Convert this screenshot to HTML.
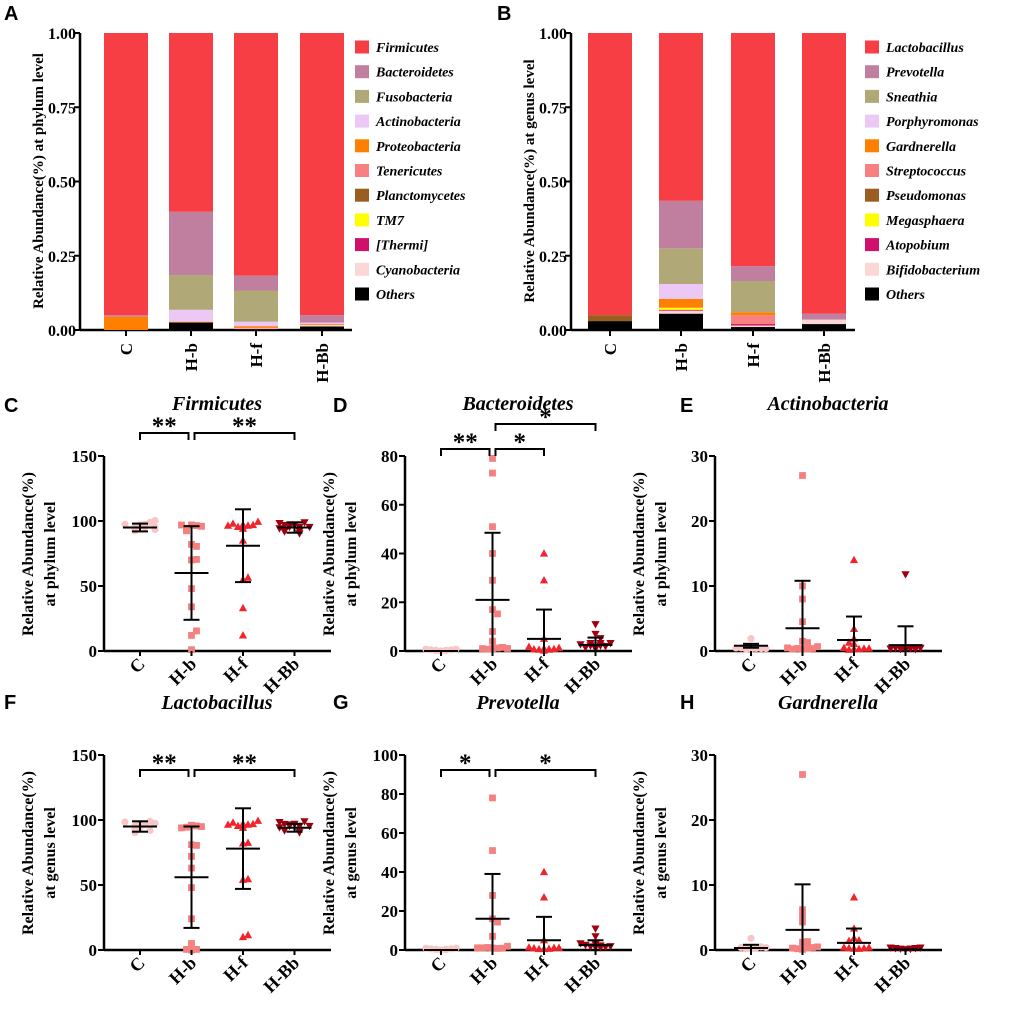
<!DOCTYPE html>
<html><head><meta charset="utf-8"><style>
html,body{margin:0;padding:0;background:#fff;}
svg{display:block;}
text{font-family:"Liberation Serif",serif;font-weight:bold;fill:#000;}
.lt{font-family:"Liberation Sans",sans-serif;font-size:20px;}
</style></head><body>
<svg id="fig" width="1020" height="1012" viewBox="0 0 1020 1012" xmlns="http://www.w3.org/2000/svg"></svg>
<script>
// ---------- data ----------
const groups = ["C","H-b","H-f","H-Bb"];
const phylumNames = ["Firmicutes","Bacteroidetes","Fusobacteria","Actinobacteria","Proteobacteria","Tenericutes","Planctomycetes","TM7","[Thermi]","Cyanobacteria","Others"];
const genusNames = ["Lactobacillus","Prevotella","Sneathia","Porphyromonas","Gardnerella","Streptococcus","Pseudomonas","Megasphaera","Atopobium","Bifidobacterium","Others"];
const legendColors = ["#f83e45","#c07f9f","#b0a877","#ebc9f4","#ff7f00","#f88080","#9a5f20","#ffff00","#d0106a","#fbd7d6","#000000"];
const phylumC   = [0.950,0.005,0,0,0.045,0,0,0,0,0,0];
const phylumHb  = [0.602,0.213,0.117,0.040,0.003,0,0,0,0,0,0.025];
const phylumHf  = [0.817,0.050,0.105,0.015,0.005,0.003,0,0,0,0.002,0.003];
const phylumHBb = [0.950,0.025,0,0.005,0.003,0,0,0,0,0.005,0.012];
const genusC   = [0.950,0,0,0,0,0,0.020,0,0,0,0.030];
const genusHb  = [0.565,0.160,0.120,0.050,0.030,0,0,0.007,0.003,0.010,0.055];
const genusHf  = [0.785,0.050,0.105,0,0.010,0.030,0,0,0.005,0.005,0.010];
const genusHBb = [0.945,0.020,0,0,0,0,0,0,0,0.015,0.020];

const firmicutes = {C:[96,97,95,93,92,98,94,96,95,97,99,92],Hb:[97,96,94,95,92,82,80,70,70,48,34,12,15,1,96],Hf:[97,96,95,96,97,98,95,96,94,85,55,56,33,12],HBb:[97,95,96,92,90,98,96,94,97,93,91,95,96]};
const firmMean=[95,60,81,95], firmSD=[3,36,28,4];
const bacteroidetes = {C:[0,0,0,0,0,0,0,0,0,0],Hb:[79,73,51,40,29,17,15,8,4,1,1,0.5,1,0.5,0.3],Hf:[40,29,5,1,0.5,0.3,0.3,0.2,0.5,1,0.2,0.3],HBb:[11,7,5,3,2,2,1.5,1,2.5,2,1,3]};
const bactMean=[0,21,5,2.5], bactSD=[0,27.5,12,3];
const actinobacteria = {C:[1.9,0.3,0.3,0.2,0.2,0.3,0.1,0.2],Hb:[27,10,8,4.5,1.5,1.2,0.3,0.2,0.3,0.2,0.1,0.4,0.2],Hf:[14,3.4,1.9,1.1,1.2,0.3,0.2,0.1,0.2,0.3,0.1],HBb:[11.8,0.2,0.3,0.2,0.1,0.3,0.2,0.1,0.2]};
const actMean=[0.8,3.5,1.7,0.9], actSD=[0.3,7.3,3.6,2.9];
const lactobacillus = {C:[97,96,95,93,92,90,91,98,96,94,97],Hb:[96,95,94,94,93,81,80,72,63,48,24,5,0,0,0],Hf:[97,96,95,96,97,98,95,96,94,82,82,54,54,10,11],HBb:[97,95,96,92,90,98,96,94,97,93,91,95,96]};
const lactMean=[95,56,78,94], lactSD=[4,39,31,3];
const prevotella = {C:[0,0,0,0,0,0,0,0,0],Hb:[78,51,28,16,14,7,1,0.5,1,0.3,0.5,1,0.2],Hf:[40,27,5,0.5,0.3,0.2,0.5,0.3,0.2,0.4],HBb:[11,7,3,2,1.5,1,2,1,2.5,1.5,1]};
const prevMean=[0,16,5,2.5], prevSD=[0,23,12,2.5];
const gardnerella = {C:[1.8,0.2,0.2,0.1,0.3,0.2,0.1],Hb:[27,6.2,5.3,4.3,1.2,1.2,0.1,0.2,0.1,0.2,0.1,0.2],Hf:[8.1,3.3,1.8,1.4,1.3,0.2,0.1,0.2,0.1,0.2,0.1],HBb:[0.1,0.1,0.1,0.1,0.1,0.1,0.1,0.1,0.1]};
const gardMean=[0.3,3.1,1.1,0.1], gardSD=[0.5,7,2.2,0];
const yTicksPct150=[0,50,100,150], yTicks80=[0,20,40,60,80], yTicks30=[0,10,20,30], yTicks100=[0,20,40,60,80,100];
const yTicksFrac=[0,0.25,0.5,0.75,1.0];

// ---------- helpers ----------
const NS="http://www.w3.org/2000/svg";
const svg=document.getElementById('fig');
function el(tag,attrs,parent,txt){const e=document.createElementNS(NS,tag);for(const k in attrs)e.setAttribute(k,attrs[k]);if(txt!==undefined)e.textContent=txt;(parent||svg).appendChild(e);return e;}
function grp(name){const g=el('g',{});


return g;}

// ---------- stacked bar panels ----------
function stacked(opts){
  const g=grp(opts.name);
  const x0=opts.axisX, yb=330, yt=33;
  const ys=v=>yb-(yb-yt)*v;
  const ax=el('line',{x1:x0,y1:yt,x2:x0,y2:yb,stroke:'#000','stroke-width':2.5},g);
  
  
  yTicksFrac.forEach(t=>{
    el('line',{x1:x0-6,y1:ys(t),x2:x0,y2:ys(t),stroke:'#000','stroke-width':2},g);
    const tl=el('text',{x:x0-4,y:ys(t)+6,'text-anchor':'end','font-size':16},g,t.toFixed(2));
    
    
  });
  const xl=el('line',{x1:x0,y1:yb,x2:opts.axisEnd,y2:yb,stroke:'#000','stroke-width':2.5},g);
  
  
  const yt2=el('text',{x:0,y:0,'text-anchor':'middle','font-size':15,transform:`translate(${opts.titleX},181) rotate(-90)`},g,opts.yTitle);
  
  
  opts.data.forEach((vals,gi)=>{
    const cx=opts.barX[gi]; let cum=0;
    const order=[10,9,8,7,6,5,4,3,2,1,0];
    order.forEach(k=>{
      const v=vals[k]; if(v<=0) return;
      const r=el('rect',{x:cx-22,y:ys(cum+v),width:44,height:ys(cum)-ys(cum+v),fill:legendColors[k]},g);
      
      
      cum+=v;
    });
    el('line',{x1:cx,y1:yb,x2:cx,y2:yb+6,stroke:'#000','stroke-width':2},g);
    const lb=el('text',{x:0,y:0,'text-anchor':'end','font-size':17,transform:`translate(${cx+6},343) rotate(-90)`},g,groups[gi]);
    
    
  });
  opts.names.forEach((n,i)=>{
    const y=47+i*24.7;
    const r=el('rect',{x:opts.legX,y:y-6.5,width:14,height:13,fill:legendColors[i]},g);
    
    
    const t=el('text',{x:opts.legX+21,y:y+5,'font-size':14,'font-style':'italic'},g,n);
    
    
  });
}
stacked({name:'panel-a-phylum-bars',axisX:80,axisEnd:352,barX:[126,191,256,322],data:[phylumC,phylumHb,phylumHf,phylumHBb],names:phylumNames,legX:355,titleX:43,yTitle:'Relative Abundance(%) at phylum level'});
stacked({name:'panel-b-genus-bars',axisX:571,axisEnd:855,barX:[610,681,753,824],data:[genusC,genusHb,genusHf,genusHBb],names:genusNames,legX:865,titleX:534,yTitle:'Relative Abundance(%) at genus level'});

// ---------- scatter panels ----------
const markerColors=['#f9c6c8','#f58080','#f0252b','#a0000e'];
function marker(g,shape,x,y,c){
  let m;
  if(shape===0) m=el('circle',{cx:x,cy:y,r:3.6,fill:c},g);
  else if(shape===1) m=el('rect',{x:x-3.4,y:y-3.4,width:6.8,height:6.8,fill:c},g);
  else if(shape===2) m=el('polygon',{points:`${x},${y-4.3} ${x+4.1},${y+3.1} ${x-4.1},${y+3.1}`,fill:c},g);
  else m=el('polygon',{points:`${x},${y+4.3} ${x+4.1},${y-3.1} ${x-4.1},${y-3.1}`,fill:c},g);
  
  
}
function scatter(o){
  const g=grp(o.name);
  const ax=o.axisX, yb=o.base, top=o.base-195, max=o.ticks[o.ticks.length-1];
  const ys=v=>yb-(yb-top)*v/max;
  const a=el('line',{x1:ax,y1:top,x2:ax,y2:yb,stroke:'#000','stroke-width':2.5},g);
  
  
  const b=el('line',{x1:ax,y1:yb,x2:ax+227,y2:yb,stroke:'#000','stroke-width':2.5},g);
  
  
  o.ticks.forEach(t=>{
    el('line',{x1:ax-6,y1:ys(t),x2:ax,y2:ys(t),stroke:'#000','stroke-width':2},g);
    const tl=el('text',{x:ax-7,y:ys(t)+6,'text-anchor':'end','font-size':17},g,String(t));
    
    
  });
  const cy=yb-97;
  const t1=el('text',{x:0,y:0,'text-anchor':'middle','font-size':16,transform:`translate(${ax-71},${cy}) rotate(-90)`},g,'Relative Abundance(%)');
  
  
  const t2=el('text',{x:0,y:0,'text-anchor':'middle','font-size':16,transform:`translate(${ax-49},${cy}) rotate(-90)`},g,o.level);
  
  
  const tt=el('text',{x:ax+113,y:top-46,'text-anchor':'middle','font-size':20,'font-style':'italic'},g,o.title);
  
  
  const keys=['C','Hb','Hf','HBb'];
  keys.forEach((k,gi)=>{
    const gx=ax+36+gi*51.5;
    const vals=o.data[k]; const placed=[];
    vals.forEach(v=>{
      const y=ys(v); let n=0; placed.forEach(p=>{if(Math.abs(p-y)<5)n++;}); placed.push(y);
      n=n%7;
      const off=((n+1)>>1)*5*(n%2?1:-1);
      marker(g,gi,gx+off,y-Math.abs(off)*0.12,markerColors[gi]);
    });
    const m=o.mean[gi], s=o.sd[gi];
    const ln=(x1,y1,x2,y2)=>el('line',{x1,y1,x2,y2,stroke:'#000','stroke-width':2},g);
    ln(gx-17,ys(m),gx+17,ys(m));
    if(s>0){ln(gx,ys(Math.max(m-s,0)),gx,ys(m+s));ln(gx-8,ys(m+s),gx+8,ys(m+s));if(m-s>0)ln(gx-8,ys(m-s),gx+8,ys(m-s));}
    el('line',{x1:gx,y1:yb,x2:gx,y2:yb+5,stroke:'#000','stroke-width':2},g);
    const lb=el('text',{x:0,y:0,'text-anchor':'end','font-size':18,transform:`translate(${gx+6},${yb+14}) rotate(-45)`},g,groups[gi]);
    
    
  });
  (o.sig||[]).forEach(s=>{
    const x1=ax+36+s[0]*51.5+(s[0]===1?3:0), x2=ax+36+s[1]*51.5-(s[1]===1?3:0), y=s[2];
    el('path',{d:`M${x1},${y+7} V${y} H${x2} V${y+7}`,fill:'none',stroke:'#000','stroke-width':2},g);
    const st=el('text',{x:(x1+x2)/2,y:y+1,'text-anchor':'middle','font-size':25,'font-family':'Liberation Sans'},g,s[3]);
    
    
  });
}
scatter({name:'panel-c-firmicutes',axisX:104,base:651,ticks:yTicksPct150,title:'Firmicutes',level:'at phylum  level',data:firmicutes,mean:firmMean,sd:firmSD,sig:[[0,1,433,'**'],[1,3,433,'**']]});
scatter({name:'panel-d-bacteroidetes',axisX:405,base:651,ticks:yTicks80,title:'Bacteroidetes',level:'at phylum  level',data:bacteroidetes,mean:bactMean,sd:bactSD,sig:[[0,1,449,'**'],[1,2,449,'*'],[1,3,424,'*']]});
scatter({name:'panel-e-actinobacteria',axisX:715,base:651,ticks:yTicks30,title:'Actinobacteria',level:'at phylum  level',data:actinobacteria,mean:actMean,sd:actSD});
scatter({name:'panel-f-lactobacillus',axisX:104,base:950,ticks:yTicksPct150,title:'Lactobacillus',level:'at genus  level',data:lactobacillus,mean:lactMean,sd:lactSD,sig:[[0,1,770,'**'],[1,3,770,'**']]});
scatter({name:'panel-g-prevotella',axisX:405,base:950,ticks:yTicks100,title:'Prevotella',level:'at genus  level',data:prevotella,mean:prevMean,sd:prevSD,sig:[[0,1,770,'*'],[1,3,770,'*']]});
scatter({name:'panel-h-gardnerella',axisX:715,base:950,ticks:yTicks30,title:'Gardnerella',level:'at genus  level',data:gardnerella,mean:gardMean,sd:gardSD});

[['A',4,20],['B',497,20],['C',4,412],['D',333,412],['E',680,412],['F',4,709],['G',333,709],['H',680,709]].forEach(p=>{
  const t=el('text',{x:p[1],y:p[2],class:'lt'},svg,p[0]);
  
  
});
</script>
</body></html>
